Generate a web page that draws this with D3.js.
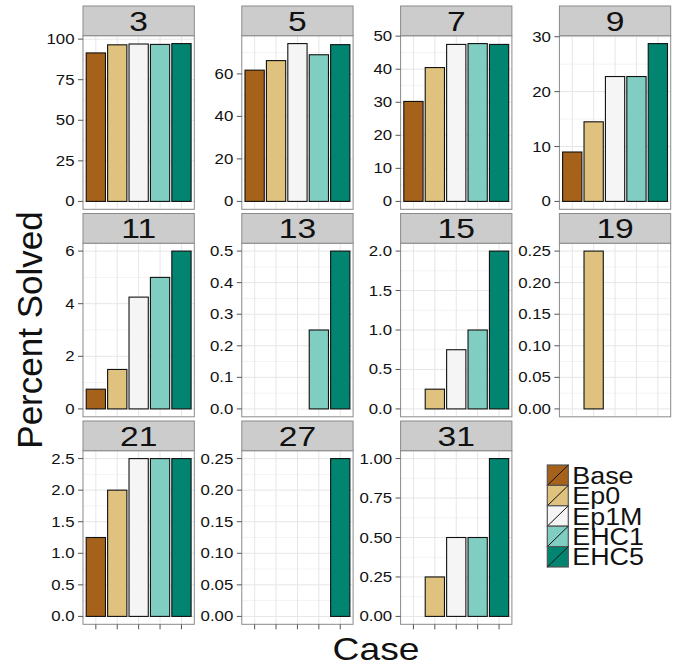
<!DOCTYPE html>
<html>
<head>
<meta charset="utf-8">
<script src="https://cdn.jsdelivr.net/npm/d3@7"></script>
<style>
  body { margin: 0; background: #fff; }
  svg { display: block; }
  text { font-family: "Liberation Sans", Arial, Helvetica, sans-serif; fill: #111; }
</style>
</head>
<body>
<svg id="chart" width="679" height="669"></svg>
<script>
// Solver configurations (fill order) and the benchmark cases (one facet each)
const categories = ["Base", "Ep0", "Ep1M", "EHC1", "EHC5"];
const cases = ["3", "5", "7", "9", "11", "13", "15", "19", "21", "27", "31"];

// Percent solved per configuration, one entry per case (null = nothing solved)
const baseVals = [91.5, 61.75, 30.25, 9, 0.75, null, null, null, 1.25, null, null];
const ep0Vals  = [96.5, 66.25, 40.5, 14.5, 1.5, null, 0.25, 0.25, 2.0, null, 0.25];
const ep1mVals = [97, 74.25, 47.5, 22.75, 4.25, null, 0.75, null, 2.5, null, 0.5];
const ehc1Vals = [96.75, 69, 47.75, 22.75, 5.0, 0.25, 1.0, null, 2.5, null, 0.5];
const ehc5Vals = [97.25, 73.75, 47.5, 28.75, 6.0, 0.5, 2.0, null, 2.5, 0.25, 1.0];

// Y tick labels for each facet (free y scales)
const ticks3  = ["0", "25", "50", "75", "100"];
const ticks5  = ["0", "20", "40", "60"];
const ticks7  = ["0", "10", "20", "30", "40", "50"];
const ticks9  = ["0", "10", "20", "30"];
const ticks11 = ["0", "2", "4", "6"];
const ticks13 = ["0.0", "0.1", "0.2", "0.3", "0.4", "0.5"];
const ticks15 = ["0.0", "0.5", "1.0", "1.5", "2.0"];
const ticks19 = ["0.00", "0.05", "0.10", "0.15", "0.20", "0.25"];
const ticks21 = ["0.0", "0.5", "1.0", "1.5", "2.0", "2.5"];
const ticks27 = ["0.00", "0.05", "0.10", "0.15", "0.20", "0.25"];
const ticks31 = ["0.00", "0.25", "0.50", "0.75", "1.00"];

const palette = ["#A6611A", "#DFC27D", "#F5F5F5", "#80CDC1", "#018571"];

const seriesVals = [baseVals, ep0Vals, ep1mVals, ehc1Vals, ehc5Vals];
const tickSets = [ticks3, ticks5, ticks7, ticks9, ticks11, ticks13, ticks15, ticks19, ticks21, ticks27, ticks31];

const svg = d3.select("#chart");

// facet grid geometry
const ncol = 4;
const left0 = 83, colPitch = 158.8, panelW = 111.3;
const top0 = 6, rowPitch = 207.5, stripH = 29.7, plotH = 173.6;
const TX = 1.2; // horizontal stretch of the text glyphs

function hText(g, x, y, str, size, anchor, sx) {
  return g.append("text")
    .attr("transform", `translate(${x},${y}) scale(${sx},1)`)
    .attr("text-anchor", anchor)
    .attr("font-size", size)
    .text(str);
}

const color = d3.scaleOrdinal().domain(categories).range(palette);
const lastRowStart = 8;

cases.forEach((cs, i) => {
  const r = Math.floor(i / ncol), c = i % ncol;
  const px = left0 + c * colPitch;
  const stripY = top0 + r * rowPitch;
  const py = stripY + stripH;
  const g = svg.append("g");

  const vals = categories.map((cat, k) => ({ cat, v: seriesVals[k][i] }));
  const maxV = d3.max(vals, d => d.v);
  const tickVals = tickSets[i].map(Number);
  const y = d3.scaleLinear()
    .domain([-0.05 * maxV, 1.05 * maxV])
    .range([py + plotH, py]);
  const x = d3.scaleBand()
    .domain(categories)
    .range([px, px + panelW])
    .paddingInner(0.1)
    .paddingOuter(0.15);

  // panel background
  g.append("rect").attr("x", px).attr("y", py).attr("width", panelW).attr("height", plotH)
    .attr("fill", "#fff");

  // minor gridlines halfway between major breaks (extended one step each side)
  const step = tickVals[1] - tickVals[0];
  const ext = [tickVals[0] - step, ...tickVals, tickVals[tickVals.length - 1] + step];
  const minor = [];
  for (let k = 0; k < ext.length - 1; k++) minor.push((ext[k] + ext[k + 1]) / 2);
  const [lo, hi] = y.domain();
  g.selectAll(".minor").data(minor.filter(m => m > lo && m < hi)).join("line")
    .attr("x1", px).attr("x2", px + panelW)
    .attr("y1", d => y(d)).attr("y2", d => y(d))
    .attr("stroke", "#f3f3f3").attr("stroke-width", 1);
  g.selectAll(".majorY").data(tickVals).join("line")
    .attr("x1", px).attr("x2", px + panelW)
    .attr("y1", d => y(d)).attr("y2", d => y(d))
    .attr("stroke", "#e6e6e6").attr("stroke-width", 1);
  g.selectAll(".majorX").data(categories).join("line")
    .attr("x1", d => x(d) + x.bandwidth() / 2).attr("x2", d => x(d) + x.bandwidth() / 2)
    .attr("y1", py).attr("y2", py + plotH)
    .attr("stroke", "#e6e6e6").attr("stroke-width", 1);

  // bars
  g.selectAll(".bar").data(vals.filter(d => d.v != null)).join("rect")
    .attr("x", d => x(d.cat))
    .attr("width", x.bandwidth())
    .attr("y", d => y(d.v))
    .attr("height", d => y(0) - y(d.v))
    .attr("fill", d => color(d.cat))
    .attr("stroke", "#111").attr("stroke-width", 1.1);

  // panel border
  g.append("rect").attr("x", px).attr("y", py).attr("width", panelW).attr("height", plotH)
    .attr("fill", "none").attr("stroke", "#8a8a8a").attr("stroke-width", 1);

  // strip
  g.append("rect").attr("x", px).attr("y", stripY).attr("width", panelW).attr("height", stripH)
    .attr("fill", "#cccccc").attr("stroke", "#8a8a8a").attr("stroke-width", 1);
  hText(g, px + panelW / 2, stripY + stripH / 2 + 10, cs, 28, "middle", TX);

  // y axis ticks and labels
  tickVals.forEach((t, k) => {
    g.append("line").attr("x1", px - 5).attr("x2", px)
      .attr("y1", y(t)).attr("y2", y(t))
      .attr("stroke", "#555").attr("stroke-width", 1);
    hText(g, px - 8.5, y(t) + 5, tickSets[i][k], 14, "end", TX);
  });

  // x axis ticks on the bottom row only
  if (i >= lastRowStart) {
    categories.forEach(cat => {
      const cx = x(cat) + x.bandwidth() / 2;
      g.append("line").attr("x1", cx).attr("x2", cx)
        .attr("y1", py + plotH).attr("y2", py + plotH + 5)
        .attr("stroke", "#555").attr("stroke-width", 1);
    });
  }
});

// axis titles
hText(svg, 376, 660, "Case", 31, "middle", TX);
svg.append("text")
  .attr("transform", "translate(41.5,330) rotate(-90)")
  .attr("text-anchor", "middle")
  .attr("font-size", 35)
  .text("Percent Solved");

// legend
const legX = 547.3, legY = 465, keyW = 21, keyH = 20.4;
const leg = svg.append("g");
categories.forEach((cat, k) => {
  const ky = legY + k * keyH;
  leg.append("rect").attr("x", legX).attr("y", ky).attr("width", keyW).attr("height", keyH)
    .attr("fill", color(cat)).attr("stroke", "#555").attr("stroke-width", 1.2);
  leg.append("line").attr("x1", legX).attr("y1", ky + keyH).attr("x2", legX + keyW).attr("y2", ky)
    .attr("stroke", "#111").attr("stroke-width", 1);
  hText(leg, legX + keyW + 4, ky + keyH / 2 + 8.6, cat, 24, "start", 1.12);
});
</script>
</body>
</html>
